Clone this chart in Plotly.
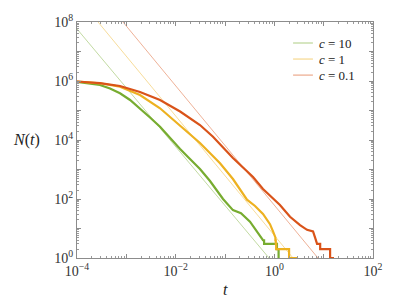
import plotly.graph_objects as go

# ---- data ----
t_green = [1e-4, 2.92e-4, 4.67e-4, 7.44e-4, 1.19e-3, 1.89e-3, 3.02e-3, 4.82e-3, 7.68e-3,
           1.23e-2, 1.95e-2, 3.11e-2, 4.97e-2, 9.12e-2, 0.145, 0.211, 0.321, 0.446, 0.589,
           0.62, 0.62, 1.13, 1.13, 1.22, 1.22, 1.27]
N_green = [9.3e5, 7.3e5, 5.57e5, 3.83e5, 2.27e5, 1.19e5, 5.79e4, 2.82e4, 1.17e4,
           4.95e3, 2.27e3, 1.04e3, 408, 100, 42, 33, 17, 8, 4,
           4, 3, 3, 2, 2, 1, 1]

t_yellow = [1e-4, 2.92e-4, 7.44e-4, 1.89e-3, 4.82e-3, 1.23e-2, 3.11e-2, 7.93e-2, 0.145,
            0.279, 0.406, 0.589, 0.817, 0.94, 1.03, 1.05, 1.05, 1.07, 1.07, 1.09, 1.09,
            1.99, 1.99, 3.02]
N_yellow = [9.6e5, 8.36e5, 6.41e5, 3.35e5, 1.19e5, 2.98e4, 7.91e3, 1.62e3, 476,
            95, 58, 31, 14, 8, 5, 5, 4, 4, 3, 3, 2,
            2, 1, 1]

t_red = [1e-4, 2.92e-4, 7.44e-4, 1.89e-3, 4.82e-3, 1.23e-2, 3.11e-2, 5.71e-2, 0.145,
         0.370, 0.589, 0.94, 1.30, 2.08, 3.32, 4.60, 6.09, 6.68, 7.35, 8.5, 8.5,
         13.5, 13.5, 16.2]
N_red = [9.6e5, 8.42e5, 6.77e5, 4.24e5, 2.27e5, 9.25e4, 3.22e4, 1.29e4, 2.45e3,
         557, 218, 108, 62.6, 25, 13, 9, 8, 5, 3, 3, 2,
         2, 1, 1]

# reference power-law guide lines (end points)
t_guide_green = [1e-4, 0.78]
N_guide_green = [5.8e7, 1]
t_guide_yellow = [2.67e-4, 2.39]
N_guide_yellow = [1e8, 1]
t_guide_red = [8.55e-4, 7.67]
N_guide_red = [1e8, 1]

labels = ["<i>c</i> = 10", "<i>c</i> = 1", "<i>c</i> = 0.1"]

x_tickvals = [1e-4, 1e-3, 1e-2, 1e-1, 1, 10, 100]
x_ticktext = ["10<sup>−4</sup>", "", "10<sup>−2</sup>", "", "10<sup>0</sup>", "", "10<sup>2</sup>"]
y_tickvals = [1, 10, 100, 1e3, 1e4, 1e5, 1e6, 1e7, 1e8]
y_ticktext = ["10<sup>0</sup>", "", "10<sup>2</sup>", "", "10<sup>4</sup>", "", "10<sup>6</sup>", "", "10<sup>8</sup>"]

GREEN = "rgb(119,172,48)"
YELLOW = "rgb(237,177,32)"
RED = "rgb(217,83,25)"
GREEN_L = "rgba(119,172,48,0.5)"
YELLOW_L = "rgba(237,177,32,0.5)"
RED_L = "rgba(217,83,25,0.5)"

fig = go.Figure()
for tx, ny, col, name in [(t_guide_green, N_guide_green, GREEN_L, labels[0]),
                          (t_guide_yellow, N_guide_yellow, YELLOW_L, labels[1]),
                          (t_guide_red, N_guide_red, RED_L, labels[2])]:
    fig.add_trace(go.Scatter(x=tx, y=ny, mode="lines", name=name, showlegend=False,
                             line=dict(color=col, width=0.9)))
for tx, ny, col in [(t_green, N_green, GREEN), (t_yellow, N_yellow, YELLOW), (t_red, N_red, RED)]:
    fig.add_trace(go.Scatter(x=tx, y=ny, mode="lines", showlegend=False,
                             line=dict(color=col, width=2.2)))

FONT = "Liberation Serif"
axis_common = dict(
    type="log", showgrid=False, zeroline=False, showline=True, linecolor="#8c8c8c",
    linewidth=1, mirror="allticks", ticks="inside", ticklen=4, tickcolor="#8c8c8c",
    tickmode="array", tickfont=dict(family=FONT, size=14, color="#333333"),
    minor=dict(ticks="inside", ticklen=2, tickcolor="#9a9a9a", dtick="D1", showgrid=False),
)
fig.update_xaxes(range=[-4, 2], tickvals=x_tickvals, ticktext=x_ticktext, **axis_common)
fig.update_yaxes(range=[0, 8], tickvals=y_tickvals, ticktext=y_ticktext, **axis_common)

# manual legend (line samples + labels), placed like the reference
legend_cols = [GREEN_L, YELLOW_L, RED_L]
legend_y = [0.911, 0.843, 0.775]
shapes = []
annotations = []
for lab, col, yy in zip(labels, legend_cols, legend_y):
    shapes.append(dict(type="line", xref="paper", yref="paper", x0=0.730, x1=0.797,
                       y0=yy, y1=yy, line=dict(color=col, width=1.2)))
    annotations.append(dict(text=lab, x=0.812, y=yy, xref="paper", yref="paper",
                            xanchor="left", yanchor="middle", showarrow=False,
                            font=dict(family=FONT, size=13, color="#222222")))

annotations += [
    dict(text="<i>N</i>(<i>t</i>)", x=-0.172, y=0.5, xref="paper", yref="paper",
         xanchor="center", yanchor="middle",
         showarrow=False, font=dict(family=FONT, size=16, color="#222222")),
    dict(text="<i>t</i>", x=0.5, y=-0.135, xref="paper", yref="paper",
         xanchor="center", yanchor="middle",
         showarrow=False, font=dict(family=FONT, size=16, color="#222222")),
]

fig.update_layout(
    width=412, height=301,
    margin=dict(l=77, r=39, t=22, b=43),
    plot_bgcolor="white", paper_bgcolor="white",
    font=dict(family=FONT, size=14, color="#222222"),
    showlegend=False,
    shapes=shapes,
    annotations=annotations,
)

fig.write_html("out.html", config={"displayModeBar": False},
               post_script="document.body.style.margin='0px';")
